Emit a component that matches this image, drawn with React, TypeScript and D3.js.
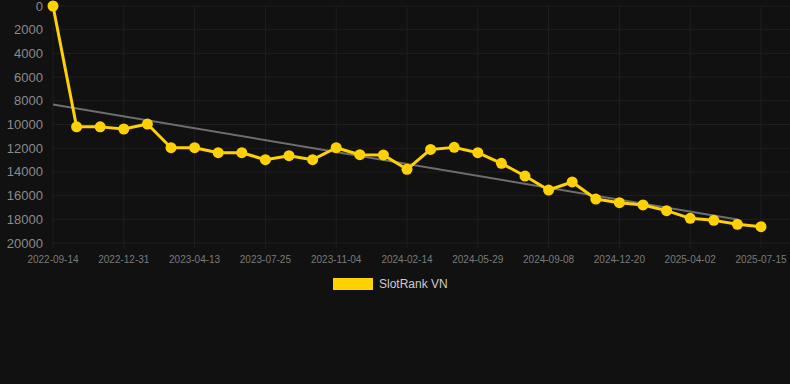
import { useEffect, useRef } from "react";
import * as d3 from "d3";

// rank per snapshot (lower is better, axis reversed)
const rankValues = [
  0, 10200, 10200, 10380, 9960, 11960, 11960, 12380, 12380, 12970, 12630,
  12970, 11960, 12550, 12570, 13780, 12100, 11930, 12380, 13280, 14350,
  15530, 14850, 16290, 16600, 16790, 17270, 17920, 18090, 18420, 18620,
];

const dateLabels = [
  "2022-09-14", "2022-12-31", "2023-04-13", "2023-07-25", "2023-11-04",
  "2024-02-14", "2024-05-29", "2024-09-08", "2024-12-20", "2025-04-02",
  "2025-07-15",
];

const yTicks = [0, 2000, 4000, 6000, 8000, 10000, 12000, 14000, 16000, 18000, 20000];

const seriesName = "SlotRank VN";

export default function App() {
  const ref = useRef<HTMLDivElement>(null);

  useEffect(() => {
    const root = d3.select(ref.current);
    root.selectAll("*").remove();

    const width = 790;
    const height = 384;
    const left = 53;
    const right = 761;
    const top = 6;
    const bottom = 243;
    const gold = "#ffd100";

    const svg = root
      .append("svg")
      .attr("width", width)
      .attr("height", height)
      .style("display", "block")
      .style("font-family", "'Liberation Sans', Arial, sans-serif");

    svg.append("rect").attr("width", width).attr("height", height).attr("fill", "#111111");

    const idx = rankValues.map((_, i) => i);
    const x = d3.scalePoint<number>().domain(idx).range([left, right]);
    const y = d3.scaleLinear().domain([0, 20000]).range([top, bottom]);

    // grid
    const grid = svg.append("g");
    grid.selectAll("line.h")
      .data(yTicks)
      .enter()
      .append("line")
      .attr("x1", left)
      .attr("x2", width)
      .attr("y1", d => y(d))
      .attr("y2", d => y(d))
      .attr("stroke", "#1f1f1f")
      .attr("stroke-width", 1);

    grid.selectAll("line.v")
      .data(dateLabels)
      .enter()
      .append("line")
      .attr("x1", (_, i) => x(i * 3)!)
      .attr("x2", (_, i) => x(i * 3)!)
      .attr("y1", top)
      .attr("y2", bottom + 5)
      .attr("stroke", "#1f1f1f")
      .attr("stroke-width", 1);

    // y labels
    svg.append("g")
      .selectAll("text")
      .data(yTicks)
      .enter()
      .append("text")
      .attr("x", 43)
      .attr("y", d => y(d))
      .attr("dy", "0.35em")
      .attr("text-anchor", "end")
      .attr("fill", "#8a8a8a")
      .style("font-size", "13px")
      .text(d => String(d));

    // x labels
    svg.append("g")
      .selectAll("text")
      .data(dateLabels)
      .enter()
      .append("text")
      .attr("x", (_, i) => x(i * 3)!)
      .attr("y", 263)
      .attr("text-anchor", "middle")
      .attr("fill", "#7a7a7a")
      .style("font-size", "10px")
      .text(d => d);

    // linear trend (least squares over index)
    const n = rankValues.length;
    const mx = d3.mean(idx)!;
    const my = d3.mean(rankValues)!;
    const slope =
      d3.sum(idx, i => (i - mx) * (rankValues[i] - my)) /
      d3.sum(idx, i => (i - mx) * (i - mx));
    const b = my - slope * mx;
    svg.append("line")
      .attr("x1", x(0)!)
      .attr("y1", y(b))
      .attr("x2", x(n - 2)!)
      .attr("y2", y(b + slope * (n - 2)))
      .attr("stroke", "#6e6e6e")
      .attr("stroke-width", 2);

    // series
    const line = d3.line<number>()
      .x((_, i) => x(i)!)
      .y(d => y(d));

    svg.append("path")
      .datum(rankValues)
      .attr("d", line)
      .attr("fill", "none")
      .attr("stroke", gold)
      .attr("stroke-width", 3)
      .attr("stroke-linejoin", "round");

    svg.append("g")
      .selectAll("circle")
      .data(rankValues)
      .enter()
      .append("circle")
      .attr("cx", (_, i) => x(i)!)
      .attr("cy", d => y(d))
      .attr("r", 5.5)
      .attr("fill", gold);

    // legend
    const lg = svg.append("g");
    lg.append("rect")
      .attr("x", 333)
      .attr("y", 278)
      .attr("width", 40)
      .attr("height", 12)
      .attr("fill", gold);
    lg.append("text")
      .attr("x", 379)
      .attr("y", 284)
      .attr("dy", "0.35em")
      .attr("fill", "#cccccc")
      .style("font-size", "12px")
      .text(seriesName);
  }, []);

  return (
    <div style={{ position: "fixed", left: 0, top: 0, width: 790, height: 384 }}>
      <div ref={ref} />
    </div>
  );
}
